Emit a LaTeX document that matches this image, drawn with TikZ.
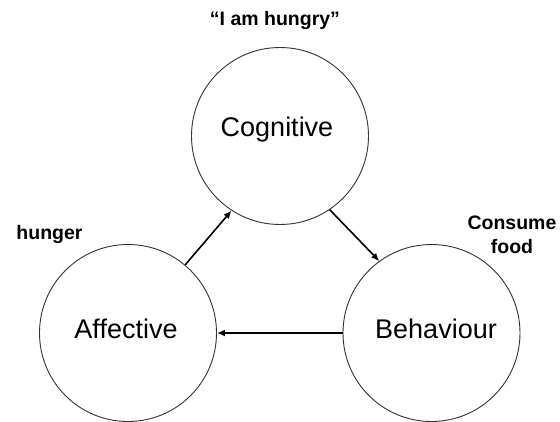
\documentclass[tikz,border=0pt]{standalone}
\usepackage{fontspec}
\setmainfont{Liberation Sans}
\usetikzlibrary{arrows.meta}
\begin{document}
\begin{tikzpicture}[x=1pt,y=-1pt,
  circ/.style={draw=black!80, line width=0.9pt, circle, minimum size=177pt, inner sep=0pt},
  big/.style={font=\fontsize{27}{30}\selectfont, inner sep=0pt},
  lab/.style={font=\bfseries\fontsize{19.5}{24}\selectfont, inner sep=0pt, align=center},
  arr/.style={line width=1.6pt, -{Latex[length=8pt,width=7pt]}}]
\useasboundingbox (0,0) rectangle (560,422);
\fill[white] (0,0) rectangle (560,422);
\begin{scope}
\clip (0,0) rectangle (560,422);
\node[circ] (C) at (280,136) {};
\node[circ] (A) at (128,333) {};
\node[circ] (B) at (431.5,333) {};
\end{scope}
\node[big] (Ct) at (277,130) {Cognitive};
\node[big] (At) at (126,329) {Affective};
\node[big] (Bt) at (436,329) {Behaviour};
\node[lab] (q) at (275,21) {“I am hungry”};
\node[lab] (h) at (49.5,235) {hunger};
\node[lab] (cf) at (512,235) {Consume\\food};
\draw[arr] (A.50) -- (C.237);
\draw[arr] (C.-56) -- (B.126);
\draw[arr] (B.west) -- (A.east);
\end{tikzpicture}
\end{document}
